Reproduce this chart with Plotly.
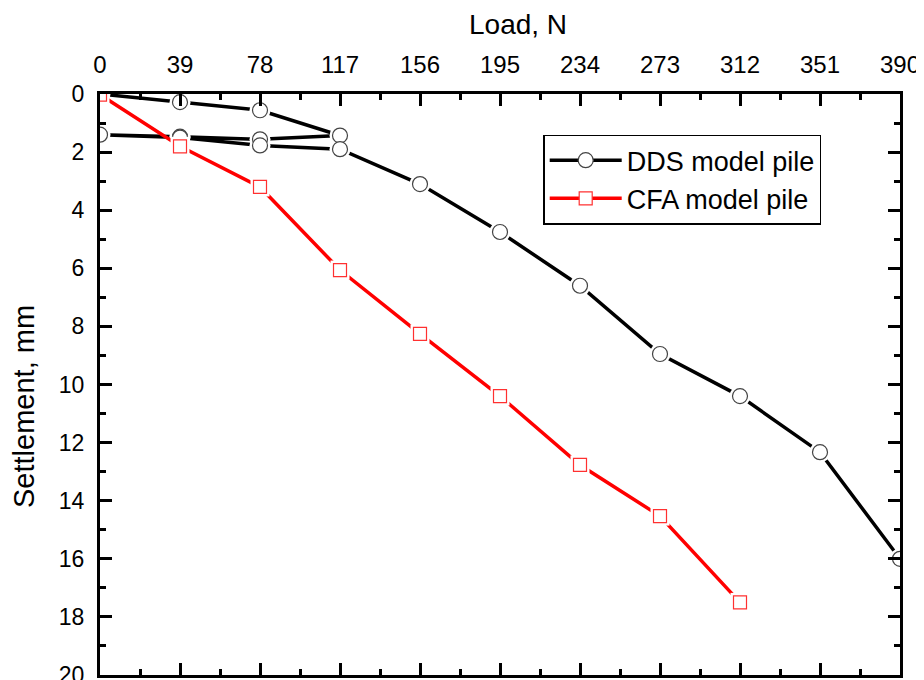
import plotly.graph_objects as go

# Data
dds_load = [0, 39, 78, 117, 78, 39, 0, 39, 78, 117, 156, 195, 234, 273, 312, 351, 390]
dds_settle = [0, 0.28, 0.56, 1.43, 1.56, 1.47, 1.4, 1.5, 1.77, 1.9, 3.1, 4.75, 6.6, 8.95, 10.4, 12.33, 16.0]

cfa_load = [0, 39, 78, 117, 156, 195, 234, 273, 312]
cfa_settle = [0.02, 1.8, 3.2, 6.06, 8.26, 10.4, 12.77, 14.53, 17.5]

x_ticks = [0, 39, 78, 117, 156, 195, 234, 273, 312, 351, 390]
y_ticks = [0, 2, 4, 6, 8, 10, 12, 14, 16, 18, 20]

x_title = "Load, N"
y_title = "Settlement, mm"

FONT = "Liberation Sans, Arial, sans-serif"

fig = go.Figure()

def add_series(x, y, name, color, symbol, mline_color, size):
    fig.add_trace(go.Scatter(
        x=x, y=y, name=name, mode="lines+markers",
        line=dict(color=color, width=3.5),
        marker=dict(symbol=symbol, size=size, color="white",
                    line=dict(color=mline_color, width=1.2)),
    ))
    fig.add_trace(go.Scatter(
        x=x, y=y, mode="markers", showlegend=False, hoverinfo="skip",
        marker=dict(symbol=symbol, size=size + 6, color="white",
                    line=dict(width=0)),
    ))
    fig.add_trace(go.Scatter(
        x=x, y=y, mode="markers", showlegend=False,
        marker=dict(symbol=symbol, size=size, color="white",
                    line=dict(color=mline_color, width=1.2)),
    ))

add_series(dds_load, dds_settle, "DDS model pile", "black", "circle", "#444444", 15)
add_series(cfa_load, cfa_settle, "CFA model pile", "#ff0000", "square", "#ff3030", 13)

# page body has an 8px default margin, so the figure is sized/margined to compensate
fig.update_layout(
    width=916, height=672,
    margin=dict(l=92, r=24, t=86, b=5),
    paper_bgcolor="white", plot_bgcolor="white",
    font=dict(family=FONT, size=23, color="black"),
    showlegend=True,
    legend=dict(
        x=0.554, y=0.93, xanchor="left", yanchor="top",
        bordercolor="black", borderwidth=1.5,
        bgcolor="white",
        font=dict(family=FONT, size=27, color="black"),
        tracegroupgap=0, itemwidth=72,
    ),
    annotations=[
        dict(text=x_title, xref="paper", yref="paper", x=(518 - 100) / 800,
             y=1 + (94 - 24) / 581, xanchor="center", yanchor="middle",
             showarrow=False, font=dict(family=FONT, size=28)),
        dict(text=y_title, xref="paper", yref="paper", x=-(100 - 24) / 800,
             y=1 - (407 - 94) / 581, xanchor="center", yanchor="middle",
             textangle=-90, showarrow=False, font=dict(family=FONT, size=29)),
    ],
)

fig.update_xaxes(
    range=[0, 390], side="top", automargin=False,
    tickmode="array", tickvals=x_ticks, ticktext=[str(v) for v in x_ticks],
    ticks="inside", ticklen=12, tickwidth=2.5, tickcolor="black",
    minor=dict(ticks="inside", ticklen=6, tickwidth=2.5, tickcolor="black",
               tickvals=[v + 19.5 for v in x_ticks[:-1]]),
    showline=True, linecolor="black", linewidth=3, mirror="allticks",
    showgrid=False, zeroline=False,
    tickfont=dict(size=24, family=FONT),
    ticklabelstandoff=8, ticklabeloverflow="allow",
)

fig.update_yaxes(
    range=[20, 0], automargin=False,
    tickmode="array", tickvals=y_ticks, ticktext=[str(v) for v in y_ticks],
    ticks="inside", ticklen=12, tickwidth=2.5, tickcolor="black",
    minor=dict(ticks="inside", ticklen=6, tickwidth=2.5, tickcolor="black",
               tickvals=[v + 1 for v in y_ticks[:-1]]),
    showline=True, linecolor="black", linewidth=3, mirror="allticks",
    showgrid=False, zeroline=False,
    tickfont=dict(size=23, family=FONT),
    ticklabelstandoff=8, ticklabeloverflow="allow",
)

fig.write_html("out.html")
